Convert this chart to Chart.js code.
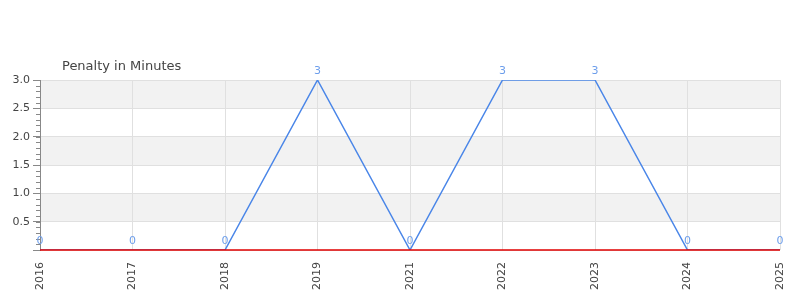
<!DOCTYPE html>
<html lang="en">
<head>
    <meta charset="UTF-8">
    <title>Penalty in Minutes</title>
    <script src="https://cdn.jsdelivr.net/npm/chart.js"></script>
    <style>
        body { margin: 0; background: #fff; }
        .box { width: 800px; height: 300px; }
    </style>
</head>
<body>
    <div class="box"><canvas id="wykres"></canvas></div>

    <script>
        const years = ['2016', '2017', '2018', '2019', '2021', '2022', '2023', '2024', '2025'];
        const penalty = [0, 0, 0, 3, 0, 3, 3, 0, 0];
        const chartTitle = 'Penalty in Minutes';

        // alternating grey bands + minor ticks + value labels + title
        const extras = {
            id: 'extras',
            beforeDraw(chart) {
                const ctx = chart.ctx, a = chart.chartArea, y = chart.scales.y;
                ctx.save();
                ctx.fillStyle = '#f2f2f2';
                for (let v = 0.5; v < 3; v += 1) {
                    const t = y.getPixelForValue(v + 0.5), b = y.getPixelForValue(v);
                    ctx.fillRect(a.left, t, a.right - a.left, b - t);
                }
                ctx.restore();
            },
            afterDraw(chart) {
                const ctx = chart.ctx, a = chart.chartArea, y = chart.scales.y;
                ctx.save();
                ctx.strokeStyle = '#888';
                ctx.lineWidth = 1;
                for (let v = 0.1; v < 3; v += 0.1) {
                    const py = Math.round(y.getPixelForValue(v)) + 0.5;
                    ctx.beginPath();
                    ctx.moveTo(a.left - 4, py);
                    ctx.lineTo(a.left, py);
                    ctx.stroke();
                }
                // zero line
                ctx.strokeStyle = '#e00000';
                ctx.lineWidth = 1.5;
                ctx.beginPath();
                ctx.moveTo(a.left, a.bottom);
                ctx.lineTo(a.right, a.bottom);
                ctx.stroke();

                ctx.fillStyle = '#6d9eeb';
                ctx.font = '11px "DejaVu Sans"';
                ctx.textAlign = 'center';
                ctx.textBaseline = 'bottom';
                chart.getDatasetMeta(0).data.forEach((pt, i) => {
                    ctx.fillText(String(penalty[i]), pt.x, pt.y - 3);
                });

                ctx.fillStyle = '#444';
                ctx.font = '13px "DejaVu Sans"';
                ctx.textAlign = 'left';
                ctx.textBaseline = 'middle';
                ctx.fillText(chartTitle, 62, 67);
                ctx.restore();
            }
        };

        var wykres = new Chart(document.getElementById('wykres').getContext('2d'), {
            type: 'line',
            data: {
                labels: years,
                datasets: [{
                    label: chartTitle,
                    data: penalty,
                    borderColor: '#4a86e8',
                    borderWidth: 1.5,
                    pointRadius: 0,
                    tension: 0,
                    fill: false
                }]
            },
            options: {
                responsive: true,
                maintainAspectRatio: false,
                animation: false,
                layout: { padding: { top: 80, right: 20, left: 0, bottom: 0 } },
                plugins: {
                    legend: { display: false },
                    tooltip: { enabled: false }
                },
                scales: {
                    x: {
                        offset: false,
                        afterFit(s) { s.height = 50; s.paddingRight = 0; s.paddingLeft = 0; },
                        grid: { color: '#e0e0e0', drawTicks: false },
                        border: { display: false },
                        ticks: {
                            minRotation: 90, maxRotation: 90, padding: 12,
                            color: '#444', font: { family: 'DejaVu Sans', size: 11 }
                        }
                    },
                    y: {
                        min: 0, max: 3,
                        afterFit(s) { s.width = 40; },
                        grid: { color: '#e0e0e0', tickColor: '#888', tickLength: 7 },
                        border: { color: '#888' },
                        ticks: {
                            stepSize: 0.5, padding: 3,
                            color: '#444', font: { family: 'DejaVu Sans', size: 11 },
                            callback: v => v === 0 ? '' : v.toFixed(1)
                        }
                    }
                }
            },
            plugins: [extras]
        });
    </script>
</body>
</html>
